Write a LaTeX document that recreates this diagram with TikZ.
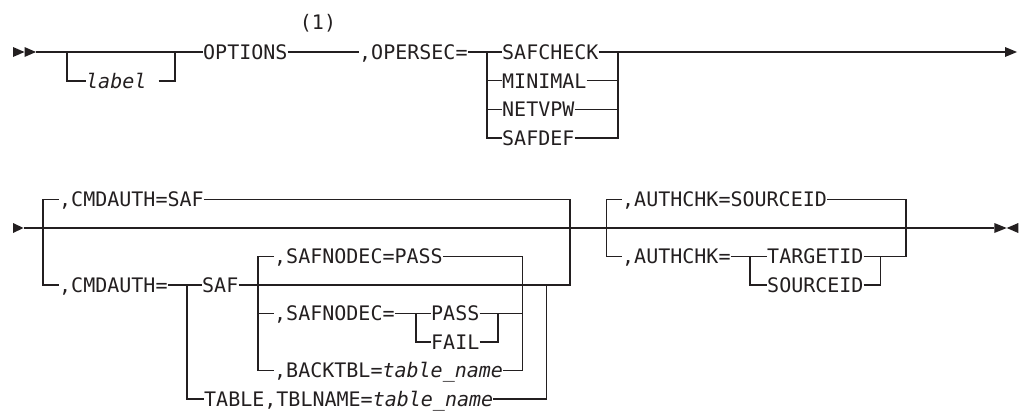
\documentclass[tikz,border=0pt]{standalone}
\usepackage{fontspec}
\newfontfamily\dm{DejaVu Sans Mono}
\definecolor{inkc}{RGB}{35,31,32}
\begin{document}
\begin{tikzpicture}[x=1pt,y=-1pt,
  ln/.style={draw=inkc, line width=1.1pt},
  tx/.style={inner sep=0pt, anchor=west, text height=14.6pt, text depth=0pt,
             font=\dm\fontsize{20pt}{24pt}\selectfont, text=inkc},
  tri/.style={fill=inkc, draw=none}]
\useasboundingbox (0,0) rectangle (1022,415);
% ---------------- row 1 ----------------
\fill[tri] (13,47) -- (24.5,52) -- (13,57) -- cycle;
\fill[tri] (24.5,47) -- (36,52) -- (24.5,57) -- cycle;
\coordinate (s1) at (36,52);
\coordinate (la) at (67,52);
\coordinate (lb) at (175,52);
\node[tx] (opt) at (203,52) {OPTIONS};
\node[tx] (lbl) at (86,81) {\itshape label\hphantom{x}};
\draw[ln] (s1) -- (opt.west);
\draw[ln] (la) |- (lbl.west);
\draw[ln] (lbl.east) -| (lb);
\node[tx, anchor=center] (note) at (318,22.5) {(1)};
\node[tx] (ops) at (359,52) {,OPERSEC=};
\draw[ln] (opt.east) -- (ops.west);
\coordinate (oa) at (487,52);
\coordinate (ob) at (618,52);
\node[tx] (o1) at (502,52) {SAFCHECK};
\node[tx] (o2) at (502,80.7) {MINIMAL};
\node[tx] (o3) at (502,109.3) {NETVPW};
\node[tx] (o4) at (502,138) {SAFDEF};
\draw[ln] (ops.east) -- (o1.west);
\draw[ln] (oa) |- (o4.west);
\draw[ln] (oa |- o2.west) -- (o2.west);
\draw[ln] (oa |- o3.west) -- (o3.west);
\draw[ln] (o4.east) -| (ob);
\draw[ln] (o2.east) -- (ob |- o2.east);
\draw[ln] (o3.east) -- (ob |- o3.east);
\coordinate (e1) at (1005,52);
\draw[ln] (o1.east) -- (e1);
\fill[tri] (1005,47) -- (1017,52) -- (1005,57) -- cycle;
% ---------------- row 2 ----------------
\fill[tri] (13,223) -- (23.5,228) -- (13,233) -- cycle;
\coordinate (s2) at (23.5,228);
\coordinate (e2) at (994.3,228);
\draw[ln] (s2) -- (e2);
\coordinate (k1) at (910.7,228);
\coordinate (k2) at (935,228);
\draw[draw=inkc, line width=2.3pt] (k1) -- (k2);
\fill[tri] (994.3,223) -- (1006.7,228) -- (994.3,233) -- cycle;
\fill[tri] (1018.3,223) -- (1006.7,228) -- (1018.3,233) -- cycle;
% CMDAUTH block
\coordinate (ca) at (43,228);
\coordinate (cb) at (570,228);
\node[tx] (c1) at (59,199.5) {,CMDAUTH=SAF};
\node[tx] (c2) at (59,285) {,CMDAUTH=};
\draw[ln] (ca) |- (c1.west);
\draw[ln] (c1.east) -| (cb);
\draw[ln] (ca) |- (c2.west);
\coordinate (sa) at (187,285);
\node[tx] (saf) at (202,285) {SAF};
\draw[ln] (c2.east) -- (saf.west);
\draw[ln] (saf.east) -| (cb);
\node[tx] (tbl) at (204,399) {TABLE,TBLNAME=\textit{table\_name}};
\draw[ln] (sa) |- (tbl.west);
\coordinate (ta) at (546.7,285);
\draw[ln] (tbl.east) -| (ta);
% SAFNODEC block
\coordinate (na) at (258,285);
\coordinate (nb) at (522.7,285);
\node[tx] (n1) at (274,256.5) {,SAFNODEC=PASS};
\node[tx] (n2) at (274,313.5) {,SAFNODEC=};
\node[tx] (n3) at (274,370.5) {,BACKTBL=\textit{table\_name}};
\draw[ln] (n1.west) -| (na) |- (n3.west);
\draw[ln] (na |- n2.west) -- (n2.west);
\draw[ln] (n1.east) -| (nb) |- (n3.east);
\coordinate (ia) at (416,313.5);
\coordinate (ib) at (498,313.5);
\node[tx] (pa) at (431,313.5) {PASS};
\node[tx] (fa) at (431,342) {FAIL};
\draw[ln] (n2.east) -- (pa.west);
\draw[ln] (ia) |- (fa.west);
\draw[ln] (fa.east) -| (ib);
\draw[ln] (pa.east) -- (nb |- pa.east);
% AUTHCHK block
\coordinate (aa) at (606.7,228);
\coordinate (ab) at (906,228);
\node[tx] (a1) at (622,199.5) {,AUTHCHK=SOURCEID};
\node[tx] (a2) at (622,256.5) {,AUTHCHK=};
\draw[ln] (aa) |- (a1.west);
\draw[ln] (aa) |- (a2.west);
\draw[ln] (a1.east) -| (ab);
\coordinate (ga) at (750,256.5);
\coordinate (gb) at (880.7,256.5);
\node[tx] (g1) at (767,256.5) {TARGETID};
\node[tx] (g2) at (767,285) {SOURCEID};
\draw[ln] (a2.east) -- (g1.west);
\draw[ln] (ga) |- (g2.west);
\draw[ln] (g2.east) -| (gb);
\draw[ln] (g1.east) -| (ab);
\end{tikzpicture}
\end{document}
